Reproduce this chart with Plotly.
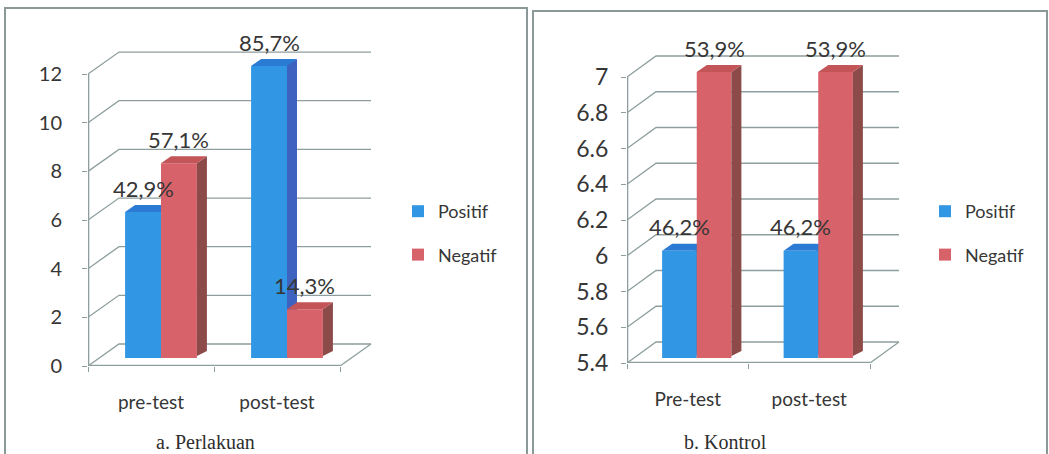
import plotly.graph_objects as go

W, H = 1049, 454

# ---------------- data ----------------
series_names = ["Positif", "Negatif"]

categories_a = ["pre-test", "post-test"]
positif_a = [6, 12]
negatif_a = [8, 2]
text_pos_a = ["42,9%", "85,7%"]
text_neg_a = ["57,1%", "14,3%"]
yticks_a = [0, 2, 4, 6, 8, 10, 12]
yticktext_a = ["0", "2", "4", "6", "8", "10", "12"]
title_a = "a. Perlakuan"

categories_b = ["Pre-test", "post-test"]
positif_b = [6, 6]
negatif_b = [7, 7]
text_pos_b = ["46,2%", "46,2%"]
text_neg_b = ["53,9%", "53,9%"]
yticks_b = [5.4, 5.6, 5.8, 6.0, 6.2, 6.4, 6.6, 6.8, 7.0]
yticktext_b = ["5.4", "5.6", "5.8", "6", "6.2", "6.4", "6.6", "6.8", "7"]
title_b = "b. Kontrol"

# ---------------- style ----------------
FONT = "Lato"
TXT = "#363636"
GRID = "#8e9e9e"
FRAME = "#8a9898"
FRONT = ["#3196E3", "#D8626A"]
TOP = ["#2B7AD4", "#C35559"]
SIDE = ["#3D62C0", "#8C4B49"]
BARGAP = 0.43
BW = (1 - BARGAP) / 2          # width of one bar in category units
DEPTH = (10, 7)                # bar depth in px (right, up)

panels = [
    dict(cats=categories_a, vals=[positif_a, negatif_a], texts=[text_pos_a, text_neg_a],
         yt=yticks_a, ytt=yticktext_a, title=title_a, title_x=205,
         ax_px=88, cat_px=126, y0_px=366, ymin=0, ys=24.33, ymax=13.5, xmax=1.85,
         wall=(31, 22), shift=(10, 8), ytick_font=20, ystand=16,
         leg_x=398, xa="x", ya="y", xb="x2", yb="y2", legend="legend"),
    dict(cats=categories_b, vals=[positif_b, negatif_b], texts=[text_pos_b, text_neg_b],
         yt=yticks_b, ytt=yticktext_b, title=title_b, title_x=725,
         ax_px=627, cat_px=121.5, y0_px=363, ymin=5.4, ys=178.75, ymax=7.2, xmax=1.85,
         wall=(29, 21), shift=(9, 5), ytick_font=23, ystand=8,
         leg_x=925, xa="x3", ya="y3", xb="x4", yb="y4", legend="legend2"),
]

fig = go.Figure()
shapes = []
annotations = []
layout = {}

def axname(ref):
    return "xaxis" + ref[1:] if ref.startswith("x") else "yaxis" + ref[1:]

for p in panels:
    cat_px, ys = p["cat_px"], p["ys"]
    xdom = [p["ax_px"] / W, (p["ax_px"] + (p["xmax"] + 0.5) * cat_px) / W]
    ydom = [1 - p["y0_px"] / H, 1 - (p["y0_px"] - (p["ymax"] - p["ymin"]) * ys) / H]
    sx, sy = p["shift"]
    # front (visible) axes
    layout[axname(p["xa"])] = dict(
        domain=xdom, range=[-0.5, p["xmax"]], anchor=p["ya"], showgrid=False, zeroline=False,
        automargin=False, showline=False,
        tickmode="array", tickvals=[0, 1], ticktext=p["cats"], ticks="",
        tickfont=dict(family=FONT, size=19, color=TXT), ticklabelstandoff=23,
        minor=dict(tickmode="array", tickvals=[-0.5, 0.5, 1.5], ticks="outside",
                   ticklen=5, tickcolor=GRID, tickwidth=1.2, showgrid=False),
        fixedrange=True)
    layout[axname(p["ya"])] = dict(
        domain=ydom, range=[p["ymin"], p["ymax"]], anchor=p["xa"], showgrid=False, zeroline=False,
        automargin=False, showline=False,
        tickmode="array", tickvals=p["yt"], ticktext=p["ytt"], ticks="outside", ticklen=5,
        tickcolor=GRID, tickwidth=1.2, ticklabelstandoff=p["ystand"],
        tickfont=dict(family=FONT, size=p["ytick_font"], color=TXT), fixedrange=True)
    # bar-plane axes (hidden), shifted back into the box
    layout[axname(p["xb"])] = dict(
        domain=xdom, overlaying=p["xa"], anchor=p["yb"], automargin=False,
        range=[-0.5 - sx / cat_px, p["xmax"] - sx / cat_px],
        visible=False, fixedrange=True)
    layout[axname(p["yb"])] = dict(
        domain=ydom, overlaying=p["ya"], anchor=p["xb"], automargin=False,
        range=[p["ymin"] - sy / ys, p["ymax"] - sy / ys],
        visible=False, fixedrange=True)

    wx, wy = p["wall"]
    # back wall grid lines
    for v in p["yt"]:
        shapes.append(dict(type="path", xref=p["xa"], yref=p["ya"], xsizemode="pixel",
                           ysizemode="pixel", xanchor=-0.5, yanchor=v,
                           path=f"M0,0 L{wx},{wy} L{wx + 2 * cat_px:.1f},{wy}",
                           line=dict(color=GRID, width=1.3), layer="below"))
    # floor right edge
    shapes.append(dict(type="path", xref=p["xa"], yref=p["ya"], xsizemode="pixel",
                       ysizemode="pixel", xanchor=1.5, yanchor=p["ymin"],
                       path=f"M0,0 L{wx},{wy}", line=dict(color=GRID, width=1.3), layer="below"))
    # front floor line and front vertical axis
    shapes.append(dict(type="line", xref=p["xa"], yref=p["ya"], x0=-0.5, x1=1.5,
                       y0=p["ymin"], y1=p["ymin"], line=dict(color=GRID, width=2.6), layer="below"))
    shapes.append(dict(type="line", xref=p["xa"], yref=p["ya"], x0=-0.5, x1=-0.5,
                       y0=p["ymin"], y1=p["yt"][-1], line=dict(color=GRID, width=2.6), layer="below"))

    # bars
    for j, name in enumerate(series_names):
        vals = p["vals"][j]
        fig.add_trace(go.Bar(
            x=[0, 1], y=[v - p["ymin"] for v in vals], base=p["ymin"], name=name,
            xaxis=p["xb"], yaxis=p["yb"], marker=dict(color=FRONT[j], line=dict(width=0)),
            legend=p["legend"], legendgroup=p["legend"] + name, hoverinfo="skip",
            offsetgroup=str(j)))
        dx, dy = DEPTH
        w = BW * cat_px
        for i, v in enumerate(vals):
            right = i + (j * BW)
            h = (v - p["ymin"]) * ys
            layer = "below" if j == 0 else "above"
            x0 = -2 if j == 0 else 0   # hidden seam of the left bar stays under its neighbour
            shapes.append(dict(type="path", xref=p["xb"], yref=p["yb"], xsizemode="pixel",
                               ysizemode="pixel", xanchor=right, yanchor=v,
                               path=f"M{x0},0 L{dx},{dy} L{dx},{dy - h:.1f} L{x0},{-h + 2:.1f} Z",
                               fillcolor=SIDE[j], line=dict(width=0), layer=layer))
            shapes.append(dict(type="path", xref=p["xb"], yref=p["yb"], xsizemode="pixel",
                               ysizemode="pixel", xanchor=right, yanchor=v,
                               path=f"M0,0 L{-w:.1f},0 L{-w + dx:.1f},{dy} L{dx},{dy} Z",
                               fillcolor=TOP[j], line=dict(width=0), layer=layer))
            annotations.append(dict(xref=p["xb"], yref=p["yb"], x=i + (j - 0.5) * BW, y=v,
                                    text=p["texts"][j][i], showarrow=False, yanchor="middle",
                                    yshift=24, font=dict(family=FONT, size=22, color=TXT)))

    annotations.append(dict(xref="paper", yref="paper", x=p["title_x"] / W, y=1 - 442 / H,
                            text=p["title"], showarrow=False, xanchor="center", yanchor="middle",
                            font=dict(family="Liberation Serif", size=20, color="#2e2e2e")))
    layout[p["legend"]] = dict(x=p["leg_x"] / W, xanchor="left", y=1 - 233 / H, yanchor="middle",
                               traceorder="grouped", tracegroupgap=17, bgcolor="rgba(0,0,0,0)",
                               font=dict(family=FONT, size=18, color=TXT))

# panel frames
shapes.append(dict(type="rect", xref="paper", yref="paper", x0=5 / W, x1=527 / W,
                   y0=-0.1, y1=1 - 8 / H, line=dict(color=FRAME, width=2)))
shapes.append(dict(type="rect", xref="paper", yref="paper", x0=533 / W, x1=1047 / W,
                   y0=-0.1, y1=1 - 11 / H, line=dict(color=FRAME, width=2)))

fig.update_layout(
    width=W, height=H, margin=dict(l=0, r=0, t=0, b=0, pad=0), autosize=False,
    paper_bgcolor="white", plot_bgcolor="rgba(0,0,0,0)",
    barmode="group", bargap=BARGAP, bargroupgap=0,
    shapes=shapes, annotations=annotations, showlegend=True, **layout)

fig.write_html("out.html")
